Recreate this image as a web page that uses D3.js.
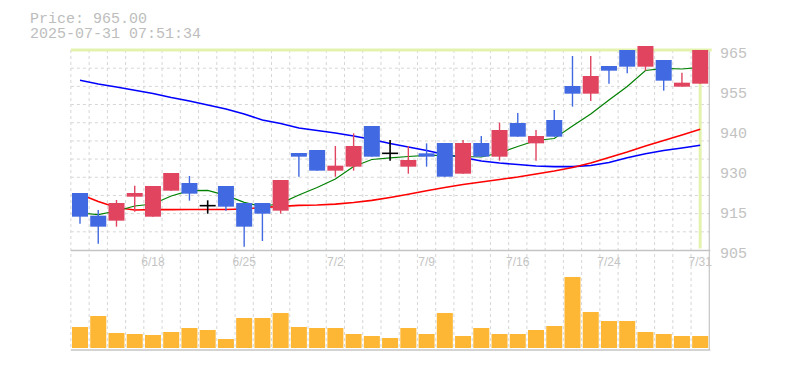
<!DOCTYPE html>
<html>
<head>
<meta charset="utf-8">
<script src="https://cdn.jsdelivr.net/npm/d3@7"></script>
<style>
  html, body { margin: 0; padding: 0; background: #ffffff; }
  svg { display: block; }
</style>
</head>
<body>
<svg id="chart" width="785" height="370"></svg>
<script>
// ---------- data ----------
const dates = ["6/12","6/13","6/16","6/17","6/18","6/19","6/20","6/23","6/24","6/25",
  "6/26","6/27","6/30","7/1","7/2","7/3","7/4","7/7","7/8","7/9",
  "7/10","7/11","7/14","7/15","7/16","7/17","7/18","7/22","7/23","7/24",
  "7/25","7/28","7/29","7/30","7/31"];
const openPrices = [922.1,915.3,913.8,921.0,915.0,922.8,925.1,918.3,924.2,919.1,
  919.1,916.8,934.1,935.0,928.8,930.0,942.2,934.0,930.0,934.0,
  937.1,927.9,937.1,933.0,943.1,937.0,944.0,954.2,951.9,960.2,
  965.0,960.0,962.0,954.0,954.9];
const highPrices = [922.1,917.0,920.0,924.3,924.2,928.1,927.2,919.9,924.2,919.1,
  919.1,926.0,934.1,935.0,936.2,940.0,942.2,938.0,936.2,937.0,
  937.1,938.0,939.2,943.2,946.1,941.0,947.0,963.2,963.2,960.2,
  965.0,966.2,962.0,958.2,965.0];
const lowPrices = [912.9,906.9,912.0,916.5,915.0,922.8,919.8,915.9,916.8,906.0,
  907.7,915.9,927.0,928.8,927.0,928.8,933.0,931.8,927.9,930.0,
  927.0,927.9,933.0,931.8,939.0,931.8,939.0,948.0,949.7,954.9,
  958.0,958.8,952.8,954.0,954.9];
const closePrices = [915.0,912.0,919.1,922.1,924.2,928.1,921.9,918.3,918.0,912.0,
  915.9,926.0,933.0,928.8,930.3,936.2,933.0,934.0,932.0,933.0,
  927.0,937.1,933.0,941.0,939.0,939.2,939.0,951.9,957.2,958.8,
  960.0,966.2,955.8,955.2,965.0];
const volumes = [21,32,15,14,13,16,20,18,9,30,
  30,35,21,20,20,14,12,10,20,14,
  35,12,20,14,14,18,22,71,36,27,
  27,16,14,12,12];
const maShort = [916.1,915.6,916.7,918.2,918.8,921.2,922.8,922.9,921.4,919.3,
  918.05,919.0,921.5,923.75,926.3,930.05,932.15,932.65,933.05,933.4,
  933.35,933.05,932.9,934.1,936.05,937.85,938.45,942.2,945.8,950.0,
  954.05,958.85,959.5,959.3,959.8];
const maMid = [921.7,919.55,917.75,917.0,917.1,917.1,917.15,917.15,917.15,917.3,
  917.75,918.1,918.4,918.5,918.75,919.25,919.9,920.75,921.7,922.75,
  923.75,924.65,925.4,926.15,926.9,927.8,928.7,929.75,931.1,932.75,
  934.4,936.2,937.85,939.5,941.2];
const maLong = [955.9,954.8,953.9,952.9,951.95,950.75,949.7,948.5,947.3,945.8,
  944.0,942.95,941.6,940.85,940.1,939.2,938.15,936.95,935.9,934.85,
  933.65,932.75,931.7,931.1,930.65,930.2,930.0,930.0,930.35,931.25,
  932.7,933.9,934.85,935.6,936.4];
const yTickValues = [965, 953, 941, 929, 917, 905];
const yTickLabels = ["965", "955", "940", "930", "915", "905"];
const xTickLabels = ["6/18", "6/25", "7/2", "7/9", "7/16", "7/24", "7/31"];
const priceText = "Price: 965.00";
const timeText = "2025-07-31 07:51:34";
const cursorDate = "7/31";
const cursorPrice = 965;

// ---------- layout ----------
const svg = d3.select("#chart");
const left = 70.88, right = 709.3;
const priceTop = 50, priceBottom = 250;
const volTop = 250, volBase = 348, volBottom = 350;

const x = d3.scaleBand().domain(dates).range([left, right])
  .paddingInner(0.123).paddingOuter(0.0615);
const step = x.step();
const cx = d => x(d) + x.bandwidth() / 2;
const y = d3.scaleLinear().domain([905, 965]).range([priceBottom, priceTop]);
const yv = d3.scaleLinear().domain([0, 98]).range([volBase, volTop]);

const gridColor = "#d6d6d6";
const borderColor = "#c4c4c4";
const upColor = "#e0445f";
const downColor = "#4169e1";

// header
svg.append("text").attr("x", 30).attr("y", 22.5).text(priceText)
  .attr("font-family", "Liberation Mono, monospace").attr("font-size", 15).attr("fill", "#bdbdbd");
svg.append("text").attr("x", 30).attr("y", 38.2).text(timeText)
  .attr("font-family", "Liberation Mono, monospace").attr("font-size", 15).attr("fill", "#bdbdbd");

// horizontal grid (price)
const gridVals = d3.range(1, 11).map(i => 905 + i * 60 / 11);
svg.append("g").selectAll("line").data(gridVals).join("line")
  .attr("x1", left).attr("x2", right)
  .attr("y1", d => y(d)).attr("y2", d => y(d))
  .attr("stroke", gridColor).attr("stroke-width", 1).attr("stroke-dasharray", "3,3");

// vertical grid (both panels)
const vgrid = d3.range(0, dates.length).map(i => left + i * step);
svg.append("g").selectAll("line").data(vgrid).join("line")
  .attr("x1", d => d).attr("x2", d => d)
  .attr("y1", priceTop).attr("y2", volBottom)
  .attr("stroke", gridColor).attr("stroke-width", 1).attr("stroke-dasharray", "3,3");

// borders
svg.append("line").attr("x1", left).attr("x2", right + 1).attr("y1", 250.5).attr("y2", 250.5)
  .attr("stroke", borderColor).attr("stroke-width", 1.5);
svg.append("line").attr("x1", left).attr("x2", right + 1).attr("y1", volBottom).attr("y2", volBottom)
  .attr("stroke", borderColor).attr("stroke-width", 1.5);
svg.append("line").attr("x1", right).attr("x2", right).attr("y1", priceTop).attr("y2", volBottom)
  .attr("stroke", borderColor).attr("stroke-width", 1.2);

// x tick labels
svg.append("g").selectAll("text").data(xTickLabels).join("text")
  .attr("x", d => cx(d)).attr("y", 266)
  .attr("text-anchor", "middle")
  .attr("font-family", "Liberation Sans, Arial, sans-serif").attr("font-size", 12)
  .attr("fill", "#c4c4c4").text(d => d);

// y tick labels
svg.append("g").selectAll("text").data(yTickValues).join("text")
  .attr("x", 720).attr("y", d => y(d) + 8.3)
  .attr("font-family", "Liberation Mono, monospace").attr("font-size", 15)
  .attr("fill", "#c2c2c2").text((d, i) => yTickLabels[i]);

// volume bars
svg.append("g").selectAll("rect").data(dates).join("rect")
  .attr("x", d => x(d)).attr("width", x.bandwidth())
  .attr("y", (d, i) => yv(volumes[i])).attr("height", (d, i) => volBase - yv(volumes[i]))
  .attr("fill", "#fdb734");

// crosshair
const crossColor = "#e3f3ae";
svg.append("line").attr("x1", left).attr("x2", right + 2.5)
  .attr("y1", y(cursorPrice)).attr("y2", y(cursorPrice))
  .attr("stroke", crossColor).attr("stroke-width", 3);
svg.append("line").attr("x1", cx(cursorDate)).attr("x2", cx(cursorDate))
  .attr("y1", y(cursorPrice)).attr("y2", 248.5)
  .attr("stroke", crossColor).attr("stroke-width", 3);

// moving averages
const line = arr => d3.line().x((d, i) => cx(dates[i])).y(d => y(d))(arr);
svg.append("path").attr("d", line(maLong)).attr("fill", "none").attr("stroke", "#0000ff").attr("stroke-width", 1.6);
svg.append("path").attr("d", line(maMid)).attr("fill", "none").attr("stroke", "#ff0000").attr("stroke-width", 1.6);
svg.append("path").attr("d", line(maShort)).attr("fill", "none").attr("stroke", "#008000").attr("stroke-width", 1.2);

// candles
const candles = svg.append("g").selectAll("g").data(dates).join("g");
candles.each(function(d, i) {
  const g = d3.select(this);
  const o = openPrices[i], c = closePrices[i], h = highPrices[i], l = lowPrices[i];
  const col = c > o ? upColor : (c < o ? downColor : "#000000");
  const xc = cx(d);
  g.append("line").attr("x1", xc).attr("x2", xc).attr("y1", y(h)).attr("y2", y(l))
    .attr("stroke", col).attr("stroke-width", c === o ? 1.6 : 1.4);
  if (c === o) {
    g.append("line").attr("x1", x(d)).attr("x2", x(d) + x.bandwidth())
      .attr("y1", y(c)).attr("y2", y(c)).attr("stroke", col).attr("stroke-width", 1.6);
  } else {
    g.append("rect").attr("x", x(d)).attr("width", x.bandwidth())
      .attr("y", y(Math.max(o, c))).attr("height", Math.max(1, Math.abs(y(o) - y(c))))
      .attr("fill", col);
  }
});
</script>
</body>
</html>
